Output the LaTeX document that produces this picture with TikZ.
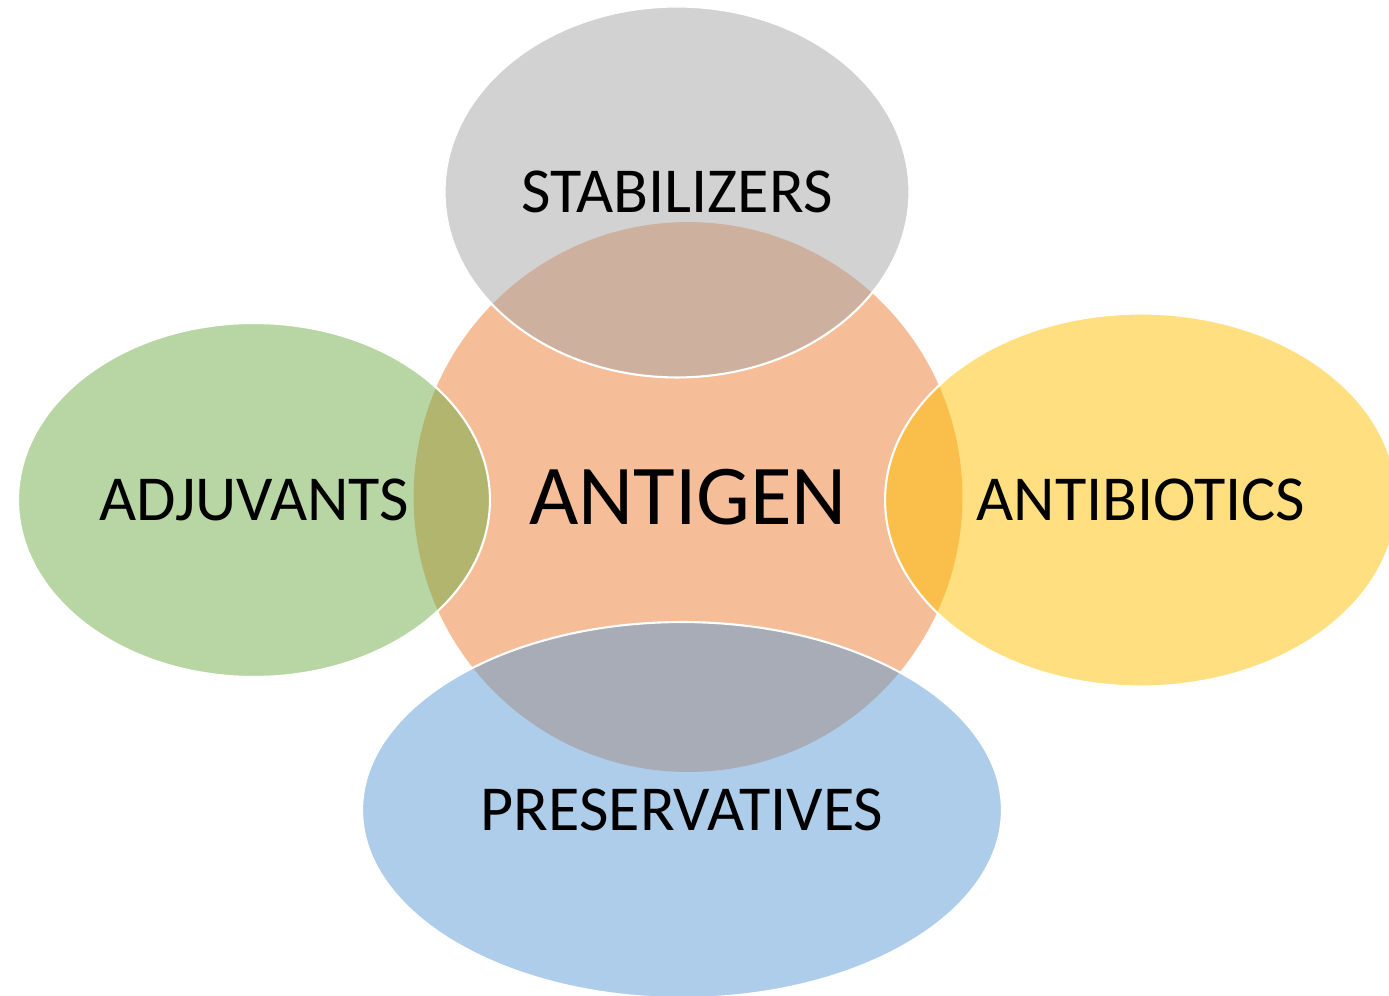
\documentclass[tikz,border=0pt]{standalone}
\usepackage{fontspec}
\setmainfont{Carlito}
\usepackage{tikz}
\definecolor{gorange}{HTML}{ED7D31}
\definecolor{ggrey}{HTML}{A5A5A5}
\definecolor{ggreen}{HTML}{70AD47}
\definecolor{ggold}{HTML}{FFC000}
\definecolor{gblue}{HTML}{5B9BD5}
\usetikzlibrary{shapes.geometric}

\begin{document}
\begin{tikzpicture}[x=0.02cm, y=-0.02cm]
    \tikzset{blob/.style={
      ellipse,
      fill opacity=.5,
      text opacity=1,
      inner sep=0pt,
      font=\fontsize{36.5}{44}\selectfont},
      part/.style={blob, draw=white, line width=1.2pt}}
    \clip (0, 0) rectangle (1389, 996);
    % centre first, the others lie over it
    \node[blob, fill=gorange, minimum width=10.98cm, minimum height=11cm,
      font=\fontsize{48.5}{58}\selectfont] at (688, 497) (antigen) {ANTIGEN};
    \node[part, fill=ggrey, minimum width=9.3cm, minimum height=7.42cm] at (677, 192) (stab) {STABILIZERS};
    \node[part, fill=ggreen, minimum width=9.44cm, minimum height=7.08cm] at (254, 500) (adju) {ADJUVANTS};
    \node[part, fill=ggold, minimum width=10.24cm, minimum height=7.46cm] at (1141, 500) (anti) {ANTIBIOTICS};
    \node[part, fill=gblue, minimum width=12.8cm, minimum height=7.52cm] at (682, 810) (pres) {PRESERVATIVES};
  \end{tikzpicture}
\end{document}
